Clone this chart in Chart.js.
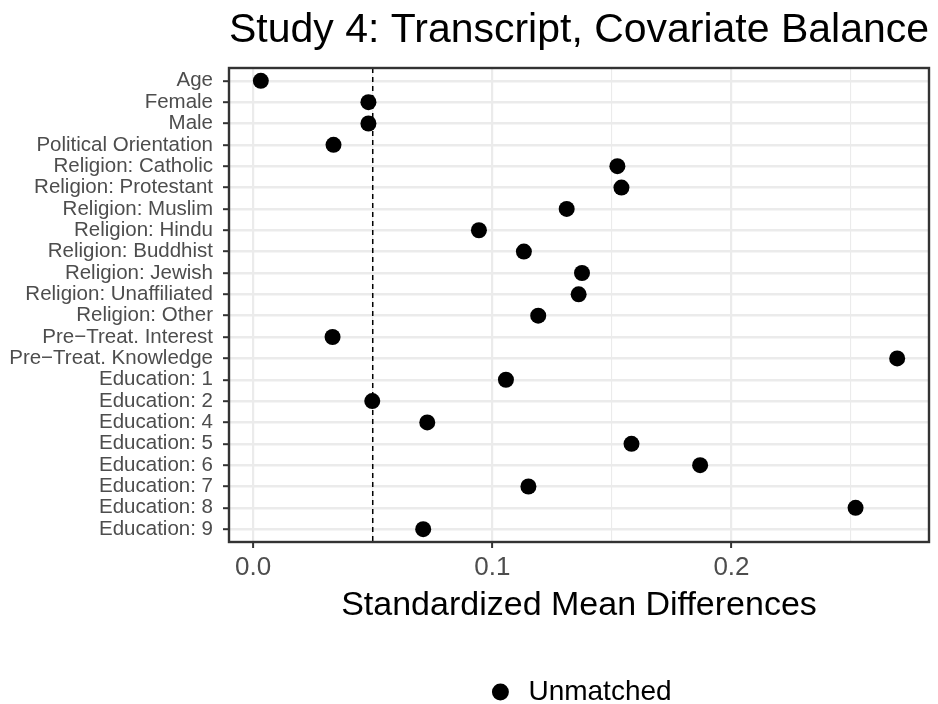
<!DOCTYPE html>
<html>
<head>
<meta charset="utf-8">
<script src="https://cdn.jsdelivr.net/npm/chart.js@4/dist/chart.umd.min.js"></script>
<style>
  html, body { margin: 0; padding: 0; background: #ffffff; }
  canvas { display: block; }
</style>
</head>
<body>
<canvas id="balance" width="938" height="704"></canvas>
<script>
// Covariates, listed top to bottom
const covariates = [
  'Age', 'Female', 'Male', 'Political Orientation',
  'Religion: Catholic', 'Religion: Protestant', 'Religion: Muslim', 'Religion: Hindu',
  'Religion: Buddhist', 'Religion: Jewish', 'Religion: Unaffiliated', 'Religion: Other',
  'Pre\u2212Treat. Interest', 'Pre\u2212Treat. Knowledge',
  'Education: 1', 'Education: 2', 'Education: 4', 'Education: 5',
  'Education: 6', 'Education: 7', 'Education: 8', 'Education: 9'
];

// Standardized mean differences before matching
const unmatchedSMD = [
  0.0032, 0.0482, 0.0482, 0.0336,
  0.1523, 0.1540, 0.1311, 0.0944,
  0.1132, 0.1375, 0.1361, 0.1192,
  0.0332, 0.2693,
  0.1057, 0.0498, 0.0728, 0.1582,
  0.1869, 0.1151, 0.2519, 0.0711
];

// Labelled x ticks and the balance threshold
const xMajorTicks = [0.0, 0.1, 0.2];
const balanceThreshold = 0.05;

const FONT = "'Liberation Sans', Arial, Helvetica, sans-serif";
const GRID = '#ebebeb';
const INK = '#333333';

const isMajor = v => xMajorTicks.some(t => Math.abs(t - v) < 1e-9);

// ggplot-style 5% expansion of the data range
const xLo = Math.min(...unmatchedSMD);
const xHi = Math.max(...unmatchedSMD);
const xPad = (xHi - xLo) * 0.05;

// Dashed threshold line under the points, panel frame on top
const panelDecor = {
  id: 'panelDecor',
  beforeDatasetsDraw(chart) {
    const { ctx, chartArea: a, scales: { x } } = chart;
    const px = x.getPixelForValue(balanceThreshold);
    ctx.save();
    ctx.strokeStyle = '#000000';
    ctx.lineWidth = 1.5;
    ctx.setLineDash([5, 4]);
    ctx.beginPath();
    ctx.moveTo(px, a.top);
    ctx.lineTo(px, a.bottom);
    ctx.stroke();
    ctx.restore();
  },
  afterDraw(chart) {
    const { ctx, chartArea: a } = chart;
    ctx.save();
    ctx.strokeStyle = INK;
    ctx.lineWidth = 2.4;
    ctx.strokeRect(a.left, a.top, a.right - a.left, a.bottom - a.top);
    ctx.restore();
  }
};

new Chart(document.getElementById('balance'), {
  type: 'scatter',
  data: {
    datasets: [{
      label: 'Unmatched',
      data: unmatchedSMD.map((v, i) => ({ x: v, y: i })),
      pointStyle: 'circle',
      pointRadius: 8,
      pointHoverRadius: 8,
      backgroundColor: '#000000',
      borderColor: '#000000',
      borderWidth: 0
    }]
  },
  options: {
    responsive: false,
    animation: false,
    events: [],
    layout: { padding: { left: 0, right: 9, top: 0, bottom: 0 } },
    plugins: {
      title: {
        display: true,
        text: 'Study 4: Transcript, Covariate Balance',
        fullSize: false,
        align: 'center',
        color: '#000000',
        font: { family: FONT, size: 41, weight: 'normal', lineHeight: 1 },
        padding: { top: 10, bottom: 17 }
      },
      legend: {
        position: 'bottom',
        fullSize: false,
        maxHeight: 36,
        labels: {
          usePointStyle: true,
          pointStyle: 'circle',
          boxWidth: 28,
          boxHeight: 12,
          padding: 10,
          color: '#000000',
          font: { family: FONT, size: 28, lineHeight: 1 }
        }
      },
      tooltip: { enabled: false }
    },
    scales: {
      x: {
        type: 'linear',
        min: xLo - xPad,
        max: xHi + xPad,
        afterFit: s => { s.height = 126; },
        border: { display: false },
        grid: {
          color: GRID,
          lineWidth: c => (isMajor(c.tick.value) ? 2.2 : 1.1),
          drawTicks: true,
          tickLength: 6,
          tickWidth: 2,
          tickColor: c => (isMajor(c.tick.value) ? INK : 'rgba(0,0,0,0)')
        },
        ticks: {
          stepSize: 0.05,
          includeBounds: false,
          autoSkip: false,
          maxRotation: 0,
          padding: 7,
          color: '#4d4d4d',
          font: { family: FONT, size: 26, lineHeight: 1 },
          callback: v => (isMajor(v) ? v.toFixed(1) : '')
        },
        title: {
          display: true,
          text: 'Standardized Mean Differences',
          color: '#000000',
          font: { family: FONT, size: 34, lineHeight: 1 },
          padding: { top: 0, bottom: 45 }
        }
      },
      y: {
        type: 'linear',
        reverse: true,
        min: -0.6,
        max: covariates.length - 1 + 0.6,
        afterFit: s => { s.width = 229; },
        border: { display: false },
        grid: {
          color: GRID,
          lineWidth: 2.4,
          drawTicks: true,
          tickLength: 6,
          tickWidth: 2,
          tickColor: INK
        },
        ticks: {
          stepSize: 1,
          includeBounds: false,
          autoSkip: false,
          padding: 10,
          color: '#4d4d4d',
          font: { family: FONT, size: 20.5, lineHeight: 1 },
          callback: v => (covariates[v] !== undefined ? covariates[v] : '')
        }
      }
    }
  },
  plugins: [panelDecor]
});
</script>
</body>
</html>
